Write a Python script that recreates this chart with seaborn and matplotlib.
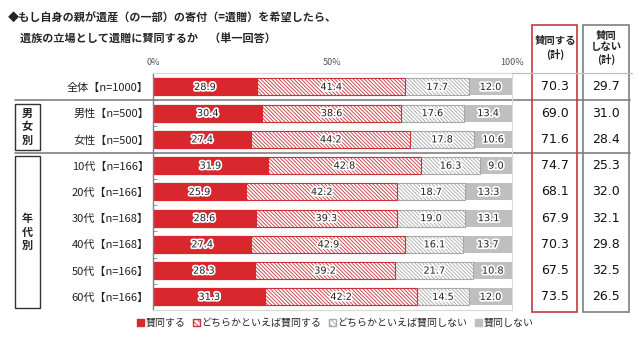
import matplotlib
matplotlib.use('Agg')
import matplotlib.pyplot as plt
import matplotlib.patheffects as pe
import matplotlib.transforms as mtransforms
from matplotlib.patches import Rectangle, Patch
from matplotlib.lines import Line2D
import numpy as np
import pandas as pd
import seaborn as sns

labels = ['全体【n=1000】', '男性【n=500】', '女性【n=500】',
          '10代【n=166】', '20代【n=166】', '30代【n=168】',
          '40代【n=168】', '50代【n=166】', '60代【n=166】']
agree = [28.9, 30.4, 27.4, 31.9, 25.9, 28.6, 27.4, 28.3, 31.3]
somewhat_agree = [41.4, 38.6, 44.2, 42.8, 42.2, 39.3, 42.9, 39.2, 42.2]
somewhat_disagree = [17.7, 17.6, 17.8, 16.3, 18.7, 19.0, 16.1, 21.7, 14.5]
disagree = [12.0, 13.4, 10.6, 9.0, 13.3, 13.1, 13.7, 10.8, 12.0]
agree_total = [70.3, 69.0, 71.6, 74.7, 68.1, 67.9, 70.3, 67.5, 73.5]
disagree_total = [29.7, 31.0, 28.4, 25.3, 32.0, 32.1, 29.8, 32.5, 26.5]
legend_labels = ['賛同する', 'どちらかといえば賛同する', 'どちらかといえば賛同しない', '賛同しない']

sns.set_theme(style='white')
plt.rcParams['font.family'] = ['Noto Sans CJK JP', 'DejaVu Sans']
plt.rcParams['hatch.linewidth'] = 0.6

RED = '#d9272e'
RED_EDGE = '#c8323a'
LGRAY = '#a8a8a8'
GRAY = '#bfbfbf'
HATCH = '\\' * 9

df = pd.DataFrame({'label': labels, 'a': agree, 'b': somewhat_agree,
                   'c': somewhat_disagree, 'd': disagree})
df['c1'] = df['a']
df['c2'] = df['c1'] + df['b']
df['c3'] = df['c2'] + df['c']
df['c4'] = df['c3'] + df['d']

W, H = 640, 353
fig = plt.figure(figsize=(6.4, 3.53), dpi=100)


def fx(x):
    return x / W


def fy(y):
    return 1 - y / H


ax = fig.add_axes([fx(153), fy(310), (512 - 153) / W, (310 - 73) / H])

# stacked bars: draw cumulative totals from the back to the front
sns.barplot(data=df, x='c4', y='label', orient='h', color=GRAY, saturation=1,
            width=0.65, linewidth=0, ax=ax)
sns.barplot(data=df, x='c3', y='label', orient='h', color='white', saturation=1,
            width=0.65, edgecolor=LGRAY, linewidth=0.8, hatch=HATCH, ax=ax)
sns.barplot(data=df, x='c2', y='label', orient='h', color='white', saturation=1,
            width=0.65, edgecolor=RED_EDGE, linewidth=0.8, hatch=HATCH, ax=ax)
sns.barplot(data=df, x='c1', y='label', orient='h', color=RED, saturation=1,
            width=0.65, edgecolor=RED, linewidth=0.8, ax=ax)

ax.set_xlim(0, 100)
ax.set_ylim(8.5, -0.53)
ax.set_xlabel('')
ax.set_ylabel('')

ax.xaxis.tick_top()
ax.set_xticks([0, 50, 100])
ax.set_xticklabels(['0%', '50%', '100%'])
ax.tick_params(axis='x', length=0, pad=4, labelsize=6.5, labelcolor='#555555')
ax.tick_params(axis='y', which='major', length=0, pad=3, labelsize=8, labelcolor='#222222')
ax.set_yticks(np.arange(0.5, 8.5), minor=True)
ax.tick_params(axis='y', which='minor', left=True, length=3, width=0.6,
               color='#888888', direction='in')

for side in ['top', 'right', 'bottom']:
    ax.spines[side].set_color('#d9d9d9')
    ax.spines[side].set_linewidth(0.8)
ax.spines['left'].set_color('#808080')
ax.spines['left'].set_linewidth(1.0)

glow = [pe.withStroke(linewidth=2.5, foreground='white')]
for i in range(len(labels)):
    starts = [0, df['c1'][i], df['c2'][i], df['c3'][i]]
    vals = [agree[i], somewhat_agree[i], somewhat_disagree[i], disagree[i]]
    for s, v in zip(starts, vals):
        ax.text(s + v / 2, i, f'{v:.1f}', ha='center', va='center', fontsize=7,
                color='#222222', path_effects=glow, family=['DejaVu Sans'])

# totals columns
tr = mtransforms.blended_transform_factory(fig.transFigure, ax.transData)
for i in range(len(labels)):
    ax.text(fx(555), i, f'{agree_total[i]:.1f}', transform=tr, ha='center',
            va='center', fontsize=9, color='#111111', family=['DejaVu Sans'])
    ax.text(fx(606), i, f'{disagree_total[i]:.1f}', transform=tr, ha='center',
            va='center', fontsize=9, color='#111111', family=['DejaVu Sans'])

fig.add_artist(Rectangle((fx(532), fy(312)), (577 - 532) / W, (312 - 25) / H,
                         transform=fig.transFigure, fill=False,
                         edgecolor='#c0393f', linewidth=1.2))
fig.add_artist(Rectangle((fx(583), fy(312)), (629 - 583) / W, (312 - 25) / H,
                         transform=fig.transFigure, fill=False,
                         edgecolor='#7f7f7f', linewidth=1.2))
fig.add_artist(Line2D([fx(512), fx(632)], [fy(73), fy(73)], color='#bfbfbf', linewidth=0.9))
fig.text(fx(555), fy(48), '賛同する\n(計)', ha='center', va='center',
         fontsize=7.5, weight='bold', linespacing=1.3)
fig.text(fx(606), fy(48), '賛同\nしない\n(計)', ha='center', va='center',
         fontsize=7.5, weight='bold', linespacing=1.2)

# group separators
for yb in [0.5, 2.5]:
    ax.plot([(15 - 153) / 359, (630 - 153) / 359], [yb, yb],
            transform=mtransforms.blended_transform_factory(ax.transAxes, ax.transData),
            color='#808080', linewidth=1.2, clip_on=False)

# group boxes
for y0, y1, name in [(104, 150, '男\n女\n別'), (156, 308, '年\n代\n別')]:
    fig.add_artist(Rectangle((fx(15), fy(y1)), 25 / W, (y1 - y0) / H,
                             transform=fig.transFigure, fill=False,
                             edgecolor='#333333', linewidth=1.0))
    fig.text(fx(27.5), fy((y0 + y1) / 2), name, ha='center', va='center',
             fontsize=8, weight='bold', linespacing=1.05)

# title
fig.text(fx(8), fy(18), '◆もし自身の親が遺産（の一部）の寄付（=遺贈）を希望したら、',
         ha='left', va='center', fontsize=8, weight='bold')
fig.text(fx(20), fy(38), '遺族の立場として遺贈に賛同するか　（単一回答）',
         ha='left', va='center', fontsize=8, weight='bold')

handles = [Patch(facecolor=RED, edgecolor=RED),
           Patch(facecolor='white', edgecolor=RED_EDGE, hatch='\\' * 6),
           Patch(facecolor='white', edgecolor=LGRAY, hatch='\\' * 6),
           Patch(facecolor=GRAY, edgecolor=GRAY)]
fig.legend(handles, legend_labels, loc='center', bbox_to_anchor=(fx(335), fy(323)),
           ncol=4, frameon=False, fontsize=7.2, handlelength=0.7, handleheight=0.7,
           handletextpad=0.2, columnspacing=0.7, borderpad=0)

fig.savefig('out.png', dpi=100)
